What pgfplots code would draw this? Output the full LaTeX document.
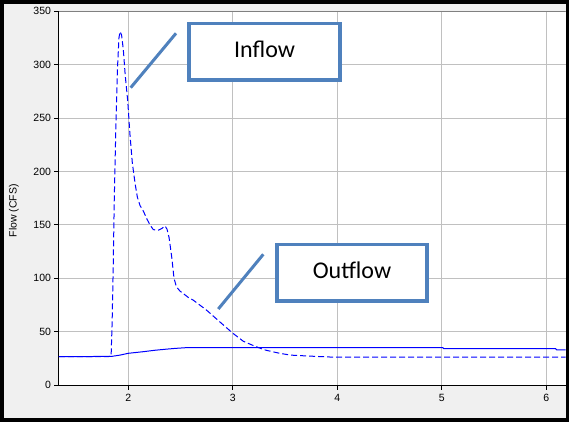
\documentclass[border=0pt]{standalone}
\usepackage{pgfplots}
\pgfplotsset{compat=1.18}
\usepackage{fontspec}
\setmainfont{Liberation Sans}
\newfontfamily\calibri{Carlito}
\definecolor{bgray}{HTML}{F0F0F0}
\definecolor{gridgray}{HTML}{C0C0C0}
\definecolor{annblue}{HTML}{4F81BD}
\begin{document}
\begin{tikzpicture}[x=1pt,y=1pt]
\useasboundingbox (0,0) rectangle (573,424);
\fill[bgray] (0,2.3) rectangle (569.3,424);
\begin{axis}[
  at={(59pt,39pt)}, anchor=south west,
  scale only axis, width=506.5pt, height=373.7pt,
  xmin=1.336, xmax=6.185, ymin=0, ymax=350,
  axis background/.style={fill=white},
  axis lines=left, axis line style={-, black, line width=1pt},
  xtick={2,3,4,5,6}, ytick={0,50,...,350},
  grid=major, major grid style={gridgray, line width=1pt},
  tick align=outside, major tick length=4.5pt,
  tick style={black, line width=1pt},
  /pgf/number format/assume math mode=true,
  tick label style={font=\fontsize{10.5}{12}\selectfont, black},
  xticklabel style={yshift=-1pt},
  yticklabel style={xshift=0pt},
  ylabel={Flow (CFS)},
  every axis y label/.style={at={(rel axis cs:0,0.466)}, xshift=-45pt, rotate=90, anchor=center, font=\fontsize{10.5}{12}\selectfont},
  clip=true,
]
\addplot[blue, line width=1pt, dash pattern=on 6pt off 3pt] coordinates {
(1.336,26.5) (1.80,26.5) (1.835,27) (1.845,60) (1.855,110) (1.865,173) (1.88,240)
(1.895,295) (1.91,325) (1.92,331) (1.935,328) (1.952,314) (1.97,290) (1.994,266)
(2.015,235) (2.038,208) (2.064,189) (2.086,176) (2.112,168) (2.143,163) (2.18,155)
(2.207,150) (2.239,145.5) (2.287,145) (2.319,146.5) (2.351,149) (2.37,146) (2.39,138)
(2.415,120) (2.437,100) (2.46,92) (2.494,88) (2.574,82) (2.621,79.5) (2.75,70)
(2.877,59) (3.0,48.5) (3.1,41) (3.195,37) (3.3,33) (3.387,31) (3.45,29.7) (3.55,28)
(3.75,27) (3.98,26) (6.185,26)
};
\addplot[blue, line width=1pt] coordinates {
(1.336,26.5) (1.84,26.8) (1.92,28) (2.0,29.7) (2.143,31.2) (2.25,32.5) (2.367,33.6)
(2.45,34.3) (2.558,35) (5.01,35) (5.02,34) (6.09,34) (6.1,33) (6.185,33)
};
\draw[gray, line width=1pt] (rel axis cs:0,1) -- (rel axis cs:1,1);
\end{axis}
% annotations
\draw[annblue, line width=3pt] (130.7,336.3) -- (176,390.7);
\draw[annblue, line width=3.7pt, fill=white] (189.2,344.2) rectangle (339.8,400.5);
\node[font=\calibri\fontsize{24}{28}\selectfont] at (264.5,375) {Inflow};
\draw[annblue, line width=3pt] (218.3,115) -- (263.3,169.7);
\draw[annblue, line width=3.7pt, fill=white] (277,123) rectangle (427,179.5);
\node[font=\calibri\fontsize{24}{28}\selectfont] at (352,154) {Outflow};
% frame
\draw[black, line width=3.7pt] (1.85,4.2) rectangle (567.45,422.15);
\end{tikzpicture}
\end{document}
